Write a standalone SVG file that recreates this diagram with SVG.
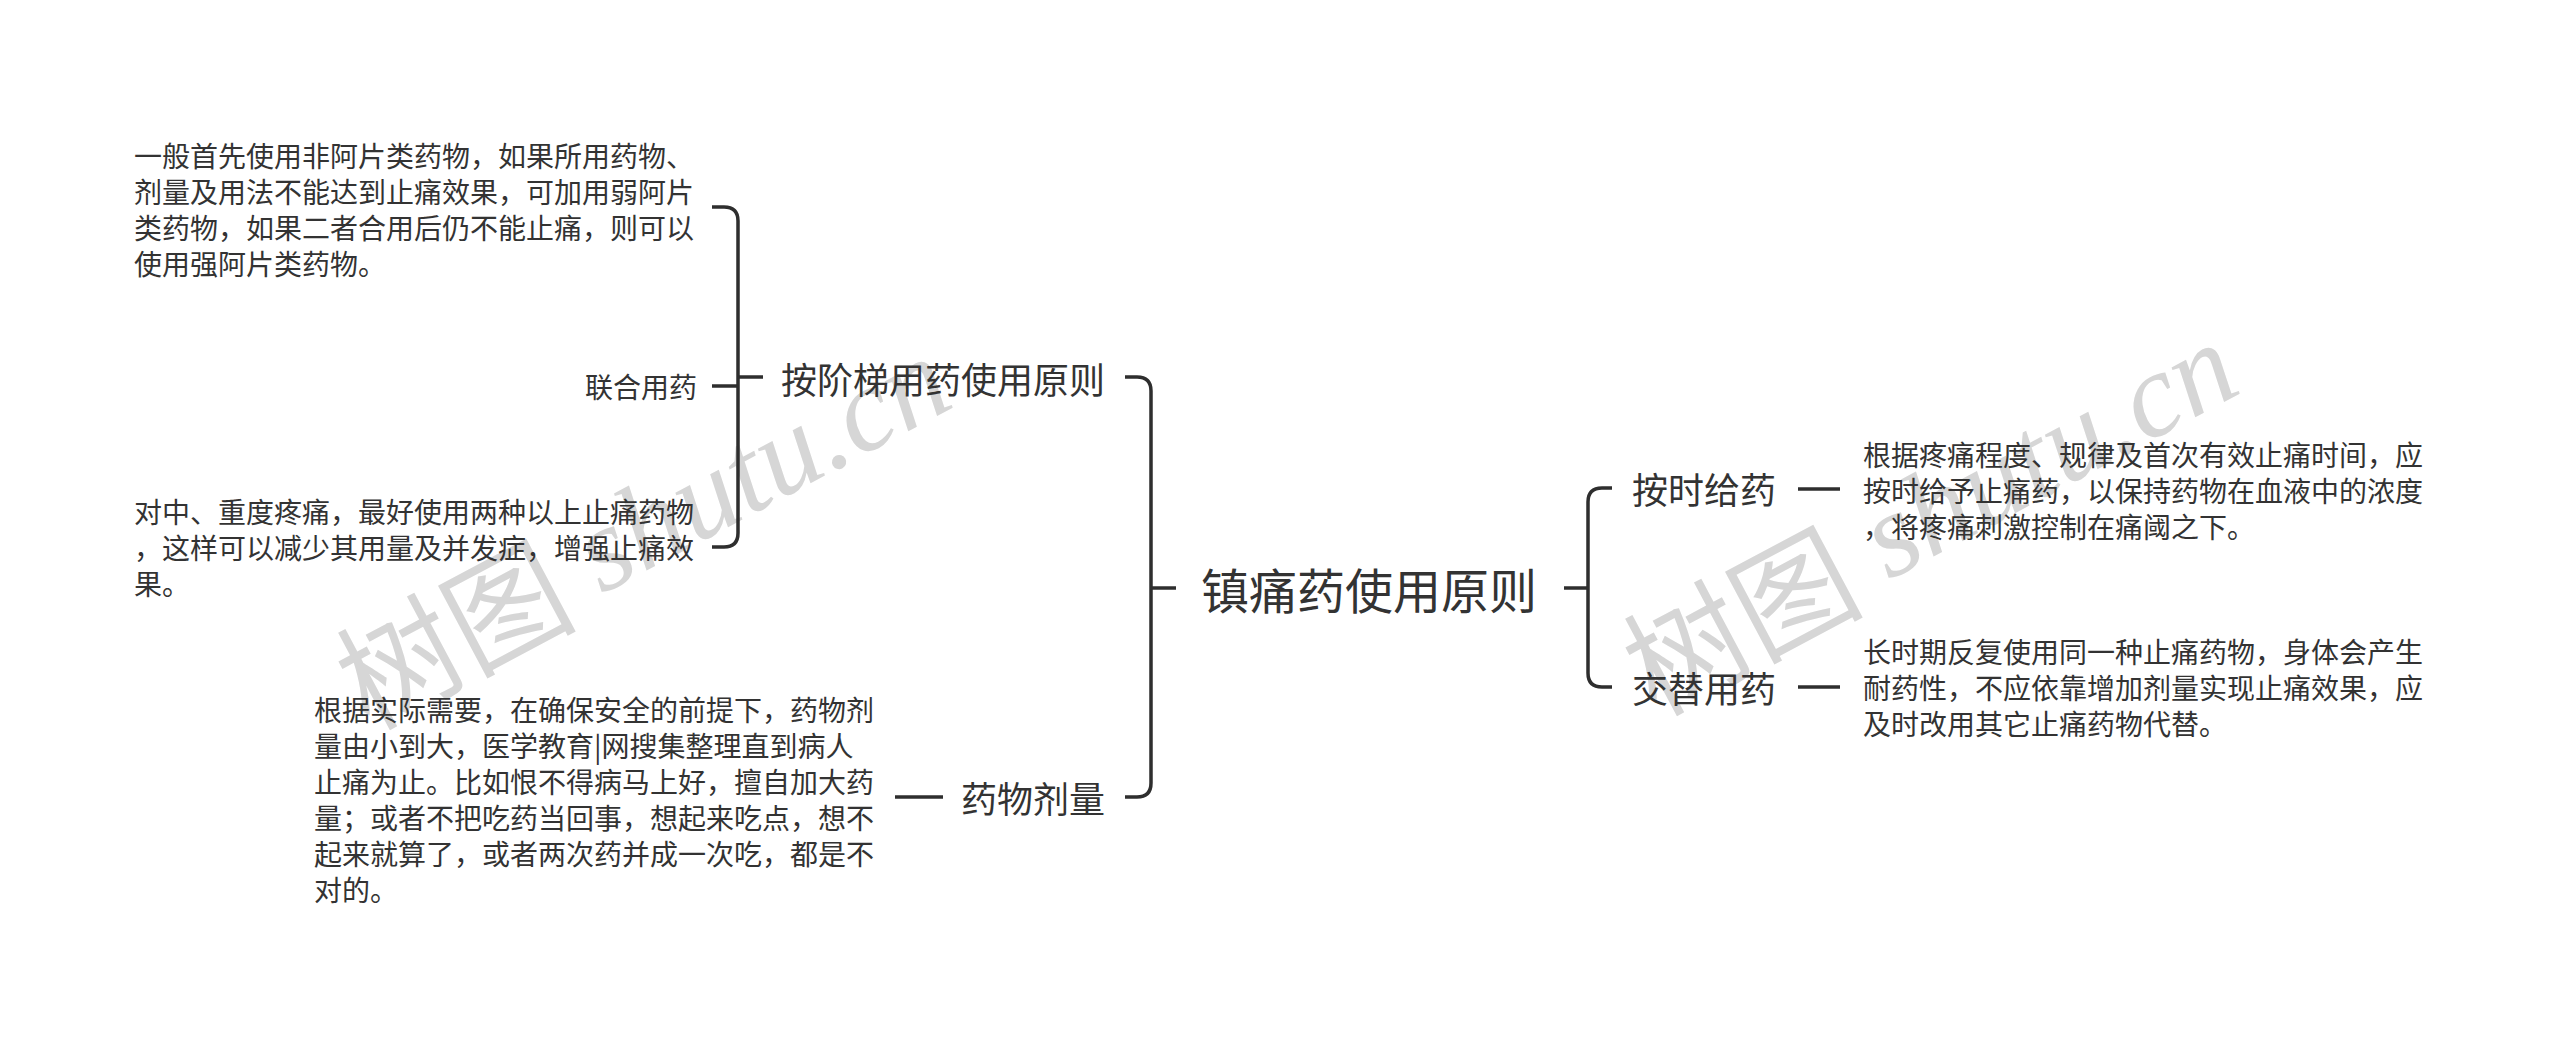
<svg xmlns="http://www.w3.org/2000/svg" width="2560" height="1041" viewBox="0 0 2560 1041">
<style>
.bg{fill:#ffffff}
.wm{font-size:120px;fill:#d6d6d6}
.wmc{font-family:"Noto Sans CJK SC",serif}
.wml{font-family:"Liberation Serif","DejaVu Serif",serif;font-style:italic}
.t{font-family:"Noto Sans CJK SC","Noto Sans CJK JP",sans-serif;fill:#333333;dominant-baseline:central}
.s{font-size:28px}
.m{font-size:36px}
.c{font-size:48px}
.ln{fill:none;stroke:#2e2e2e;stroke-width:3.5;stroke-linecap:butt;stroke-linejoin:round}
</style>
<rect class="bg" x="0" y="0" width="2560" height="1041"/>
<g id="watermarks">
<text class="wm" text-anchor="middle" dominant-baseline="central" transform="translate(641,527) rotate(-28)"><tspan class="wmc">树图</tspan><tspan class="wml"> shutu.cn</tspan></text>
<text class="wm" text-anchor="middle" dominant-baseline="central" transform="translate(1928,513) rotate(-28)"><tspan class="wmc">树图</tspan><tspan class="wml"> shutu.cn</tspan></text>
</g>
<g id="connectors">
<path class="ln" d="M1125,377 H1137 Q1151,377 1151,391 V783 Q1151,797 1137,797 H1125"/>
<path class="ln" d="M1151,588 H1176"/>
<path class="ln" d="M712,207 H724 Q738,207 738,221 V533 Q738,547 724,547 H712"/>
<path class="ln" d="M712,386 H738"/>
<path class="ln" d="M738,377 H763"/>
<path class="ln" d="M895,797 H943"/>
<path class="ln" d="M1612,488 H1602 Q1588,488 1588,502 V673 Q1588,687 1602,687 H1612"/>
<path class="ln" d="M1564,588 H1588"/>
<path class="ln" d="M1798,489 H1840"/>
<path class="ln" d="M1798,687 H1840"/>
</g>
<g id="root">
<text class="t c" x="1201" y="588">镇痛药使用原则</text>
</g>
<g id="n-jieti">
<text class="t m" x="781" y="378">按阶梯用药使用原则</text>
</g>
<g id="n-jieti-a">
<text class="t s"><tspan x="134" y="155">一般首先使用非阿片类药物，如果所用药物、</tspan><tspan x="134" y="191">剂量及用法不能达到止痛效果，可加用弱阿片</tspan><tspan x="134" y="227">类药物，如果二者合用后仍不能止痛，则可以</tspan><tspan x="134" y="263">使用强阿片类药物。</tspan></text>
</g>
<g id="n-lianhe">
<text class="t s" x="697" y="386" text-anchor="end">联合用药</text>
</g>
<g id="n-jieti-b">
<text class="t s"><tspan x="134" y="511">对中、重度疼痛，最好使用两种以上止痛药物</tspan><tspan x="134" y="547">，这样可以减少其用量及并发症，增强止痛效</tspan><tspan x="134" y="583">果。</tspan></text>
</g>
<g id="n-jiliang">
<text class="t m" x="961" y="797">药物剂量</text>
</g>
<g id="n-jiliang-a">
<text class="t s"><tspan x="314" y="709">根据实际需要，在确保安全的前提下，药物剂</tspan><tspan x="314" y="745">量由小到大，医学教育|网搜集整理直到病人</tspan><tspan x="314" y="781">止痛为止。比如恨不得病马上好，擅自加大药</tspan><tspan x="314" y="817">量；或者不把吃药当回事，想起来吃点，想不</tspan><tspan x="314" y="853">起来就算了，或者两次药并成一次吃，都是不</tspan><tspan x="314" y="889">对的。</tspan></text>
</g>
<g id="n-anshi">
<text class="t m" x="1632" y="488">按时给药</text>
</g>
<g id="n-anshi-a">
<text class="t s"><tspan x="1863" y="454">根据疼痛程度、规律及首次有效止痛时间，应</tspan><tspan x="1863" y="490">按时给予止痛药，以保持药物在血液中的浓度</tspan><tspan x="1863" y="526">，将疼痛刺激控制在痛阈之下。</tspan></text>
</g>
<g id="n-jiaoti">
<text class="t m" x="1632" y="687">交替用药</text>
</g>
<g id="n-jiaoti-a">
<text class="t s"><tspan x="1863" y="651">长时期反复使用同一种止痛药物，身体会产生</tspan><tspan x="1863" y="687">耐药性，不应依靠增加剂量实现止痛效果，应</tspan><tspan x="1863" y="723">及时改用其它止痛药物代替。</tspan></text>
</g>
</svg>
